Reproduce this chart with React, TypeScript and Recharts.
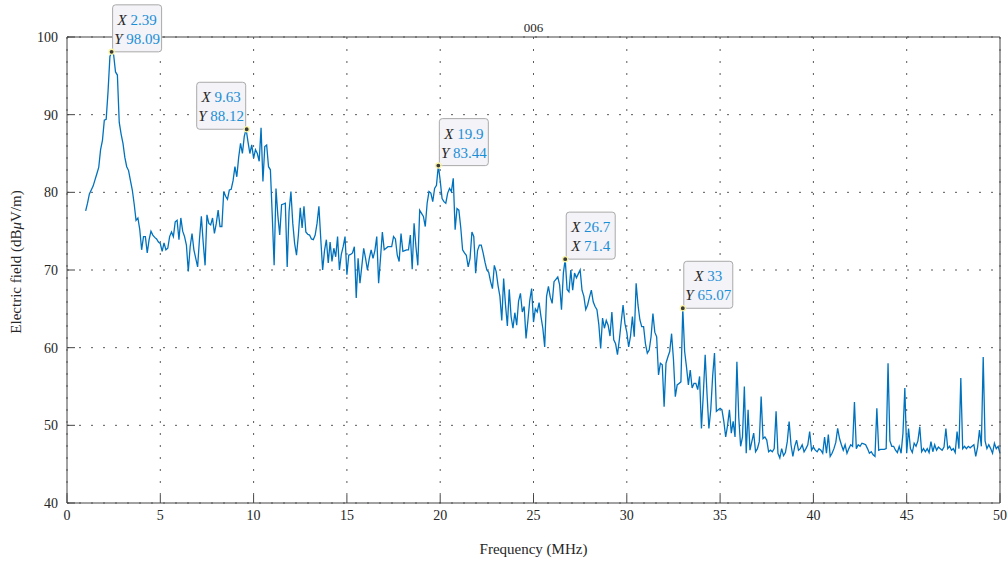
import React from 'react'
import { ComposedChart, Line, XAxis, YAxis, CartesianGrid, ReferenceDot, Label } from 'recharts'

// frequency axis: samples every 0.1 MHz starting at 1 MHz
const freqStart = 1
const freqStep = 0.1

// electric field (dBuV/m), one row per MHz
const fieldLevels = [
  77.6, 78.6, 79.8, 80.3, 80.8, 81.6, 82.4, 83.2, 85.5, 86.7,
  89.3, 89.4, 93.0, 97.5, 98.09, 97.7, 95.5, 95.1, 89.0, 87.5,
  86.3, 84.5, 83.3, 82.8, 81.5, 80.3, 78.5, 76.4, 76.7, 75.2,
  72.6, 74.3, 74.3, 72.2, 73.9, 75.0, 74.5, 74.2, 74.0, 73.6,
  73.4, 72.4, 73.5, 72.6, 72.8, 74.3, 74.9, 74.3, 76.2, 76.4,
  73.9, 76.7, 75.0, 74.3, 73.2, 69.8, 73.0, 74.7, 72.6, 71.5,
  70.4, 74.0, 76.9, 73.5, 70.6, 77.1, 76.0, 75.8, 76.7, 74.7,
  76.0, 77.7, 75.6, 75.6, 80.1, 79.5, 79.1, 80.3, 80.4, 81.5,
  83.3, 82.0, 84.5, 86.3, 85.0, 87.2, 88.12, 86.5, 85.0, 86.1,
  84.4, 85.5, 85.0, 84.0, 88.3, 81.4, 85.9, 86.1, 83.3, 82.9,
  77.0, 70.6, 80.5, 77.0, 74.5, 78.4, 78.5, 78.6, 70.4, 77.5,
  80.1, 76.0, 73.4, 71.9, 74.5, 78.0, 75.4, 78.2, 74.9, 74.6,
  74.5, 74.0, 73.9, 74.5, 76.0, 78.2, 74.0, 70.0, 72.5, 73.9,
  70.9, 73.6, 71.1, 72.8, 71.7, 74.3, 70.0, 72.0, 73.0, 74.3,
  69.4, 71.9, 72.0, 72.2, 73.0, 66.4, 71.5, 68.3, 70.5, 72.8,
  71.5, 70.0, 71.5, 72.6, 71.5, 72.5, 74.3, 68.3, 71.5, 74.9,
  72.6, 72.8, 73.0, 73.0, 73.0, 74.3, 74.0, 71.9, 71.1, 74.7,
  72.4, 72.5, 72.6, 72.6, 74.5, 70.1, 76.0, 73.0, 70.6, 77.7,
  77.3, 76.9, 75.6, 78.6, 80.1, 79.9, 78.8, 80.5, 80.9, 83.44,
  81.5, 79.2, 78.8, 78.6, 79.9, 80.5, 80.1, 81.8, 75.2, 77.9,
  77.7, 75.5, 72.6, 72.2, 71.9, 70.4, 71.5, 74.9, 74.3, 69.6,
  72.5, 73.2, 73.2, 72.2, 71.0, 70.0, 69.7, 68.5, 67.6, 70.6,
  69.8, 68.0, 66.6, 63.5, 68.9, 65.5, 62.8, 67.5, 64.0, 62.5,
  64.5, 62.9, 66.0, 67.0, 64.6, 65.3, 61.2, 63.5, 66.1, 67.6,
  63.3, 65.0, 64.6, 65.8, 64.0, 62.5, 60.1, 66.6, 67.9, 66.5,
  65.7, 68.5, 68.8, 69.1, 68.1, 64.9, 69.6, 71.4, 67.5, 67.2,
  70.0, 67.4, 69.6, 69.0, 69.5, 70.0, 67.4, 66.6, 64.9, 65.5,
  66.5, 67.4, 65.9, 65.3, 64.9, 63.0, 59.9, 63.8, 62.5, 63.5,
  62.9, 61.5, 64.6, 61.0, 60.5, 59.1, 61.0, 63.3, 65.5, 63.1,
  62.0, 60.1, 61.5, 64.0, 61.4, 68.3, 65.5, 63.6, 62.7, 62.7,
  60.5, 59.3, 59.7, 61.4, 64.4, 62.0, 61.4, 56.5, 58.0, 57.8,
  52.4, 58.0, 58.8, 59.5, 61.8, 58.5, 53.7, 55.2, 55.4, 55.6,
  65.07, 59.5, 57.5, 55.2, 57.1, 54.8, 55.4, 55.4, 54.6, 56.3,
  49.6, 54.0, 59.1, 54.0, 49.6, 52.0, 56.3, 59.3, 51.8, 52.0,
  52.2, 52.0, 50.5, 48.5, 50.0, 52.0, 49.0, 50.5, 48.5, 58.2,
  51.0, 47.3, 48.5, 55.0, 46.4, 52.0, 46.8, 47.9, 49.0, 46.6,
  47.0, 47.9, 53.7, 48.3, 48.5, 48.1, 46.6, 46.8, 46.6, 47.0,
  51.8, 46.4, 45.8, 47.0, 46.1, 46.5, 47.9, 50.5, 47.5, 46.0,
  47.3, 48.1, 46.8, 47.0, 47.5, 46.6, 47.0, 47.5, 49.2, 46.8,
  47.2, 46.8, 46.6, 47.0, 46.8, 46.4, 48.5, 46.4, 48.8, 46.0,
  46.4, 47.0, 47.8, 49.6, 48.3, 47.5, 46.8, 47.5, 46.4, 47.0,
  47.5, 47.3, 53.0, 47.0, 47.5, 47.3, 47.7, 47.6, 47.5, 47.0,
  46.4, 46.6, 46.2, 46.0, 52.2, 46.8, 46.9, 46.9, 46.9, 47.0,
  58.0, 48.0, 47.3, 47.3, 46.8, 46.5, 47.3, 46.4, 49.0, 54.8,
  46.4, 49.6, 47.0, 46.5, 47.7, 47.3, 48.0, 49.8, 46.6, 47.0,
  46.6, 47.0, 46.5, 47.9, 46.6, 47.5, 46.8, 47.2, 47.0, 46.8,
  47.2, 49.6, 47.0, 47.3, 46.8, 47.0, 46.5, 49.2, 47.0, 56.1,
  47.0, 47.3, 47.0, 47.3, 47.1, 47.3, 47.5, 46.0, 47.2, 49.4,
  47.3, 58.8, 48.0, 47.0, 47.5, 47.0, 46.4, 47.7, 47.0, 47.3,
  46.4,
]

const xTicks = [0, 5, 10, 15, 20, 25, 30, 35, 40, 45, 50]
const yTicks = [40, 50, 60, 70, 80, 90, 100]

// data tips
const tipX = [2.39, 9.63, 19.9, 26.7, 33]
const tipY = [98.09, 88.12, 83.44, 71.4, 65.07]
const tipNames = [['X', 'Y'], ['X', 'Y'], ['X', 'Y'], ['X', 'X'], ['X', 'Y']]
const tipValues = [['2.39', '98.09'], ['9.63', '88.12'], ['19.9', '83.44'], ['26.7', '71.4'], ['33', '65.07']]

const points = fieldLevels.map((v, i) => ({ f: +(freqStart + i * freqStep).toFixed(2), v }))

const serif = '"Liberation Serif", "DejaVu Serif", serif'
const axisColor = '#454545'
const textColor = '#262626'

function DataTip({ cx, cy, i }: { cx: number; cy: number; i: number }) {
  const w = 49
  const h = 47
  const onLeft = i === 1
  const bx = onLeft ? cx - w - 1 : cx + 1
  const by = cy - h
  const mid = bx + w / 2
  return (
    <g>
      <rect x={bx} y={by} width={w} height={h} rx={3} fill="#f3f3f8" stroke="#a9a9a9" strokeWidth={1} />
      {[0, 1].map((k) => (
        <text key={k} x={mid} y={by + 20 + k * 19} textAnchor="middle" fontFamily={serif} fontSize={15}>
          <tspan fill={textColor} fontStyle="italic">{tipNames[i][k]}</tspan>
          <tspan fill="#1b8fd6">{' ' + tipValues[i][k]}</tspan>
        </text>
      ))}
      <circle cx={cx} cy={cy} r={2.6} fill="#3a3a3a" stroke="#fbf6a8" strokeWidth={1.3} />
    </g>
  )
}

function YTitle(props: any) {
  const vb = props.viewBox || { x: 0, y: 37, width: 67, height: 466 }
  const x = vb.x + 21
  const y = vb.y + vb.height / 2 - 8
  return (
    <text x={x} y={y} transform={`rotate(-90 ${x} ${y})`} textAnchor="middle" fill={textColor} fontSize={15} fontFamily={serif}>
      Electric field (dB<tspan fontStyle="italic">μ</tspan>V/m)
    </text>
  )
}

export default function App() {
  return (
    <div style={{ position: 'absolute', left: 0, top: 0, width: 1007, height: 563, background: '#fff' }}>
      <ComposedChart width={1007} height={563} data={points} margin={{ top: 36, right: 6, bottom: 0, left: 0 }}>
        <CartesianGrid stroke="#5a5a5a" strokeDasharray="2 10" />
        <XAxis
          dataKey="f"
          type="number"
          domain={[0, 50]}
          ticks={xTicks}
          interval={0}
          height={60}
          tickSize={-8}
          tickMargin={15}
          stroke={axisColor}
          tick={{ fill: textColor, fontSize: 14, fontFamily: serif }}
        >
          <Label value="Frequency (MHz)" position="insideBottom" offset={9} fill={textColor} fontSize={15} fontFamily={serif} />
        </XAxis>
        <XAxis
          xAxisId="top"
          orientation="top"
          dataKey="f"
          type="number"
          domain={[0, 50]}
          ticks={xTicks}
          height={1}
          tickSize={-8}
          tick={false}
          stroke={axisColor}
        >
          <Label value="006" position="top" offset={4} fill={textColor} fontSize={13} fontFamily={serif} />
        </XAxis>
        <YAxis
          type="number"
          domain={[40, 100]}
          ticks={yTicks}
          interval={0}
          width={67}
          tickSize={-8}
          tickMargin={17}
          stroke={axisColor}
          tick={{ fill: textColor, fontSize: 14, fontFamily: serif }}
        >
          <Label content={<YTitle />} />
        </YAxis>
        <YAxis
          yAxisId="right"
          orientation="right"
          type="number"
          domain={[40, 100]}
          ticks={yTicks}
          width={1}
          tickSize={-8}
          tick={false}
          stroke={axisColor}
        />
        <Line dataKey="v" type="linear" stroke="#0072BD" strokeWidth={1.3} dot={false} isAnimationActive={false} />
        {tipX.map((x, i) => (
          <ReferenceDot
            key={i}
            x={x}
            y={tipY[i]}
            r={3}
            ifOverflow="visible"
            shape={(p: any) => <DataTip cx={p.cx} cy={p.cy} i={i} />}
          />
        ))}
      </ComposedChart>
    </div>
  )
}
